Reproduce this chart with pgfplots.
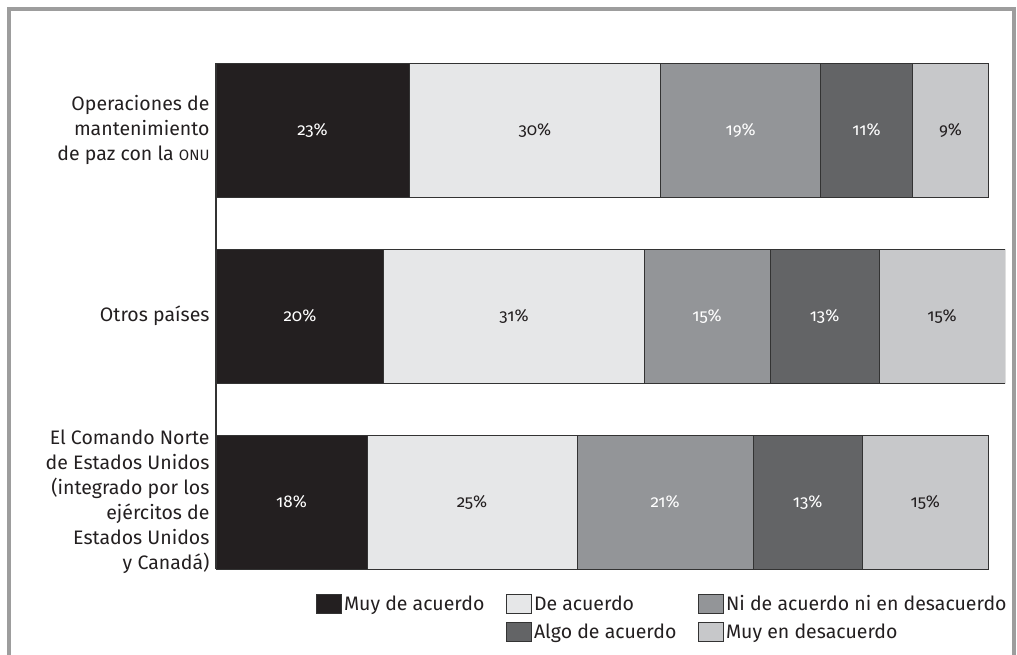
\documentclass[border=0pt]{standalone}
\usepackage{fontspec}
\setmainfont{Fira Sans}
\newfontfamily\numfont[Numbers=OldStyle]{Fira Sans}
\usepackage{pgfplots}
\usepackage{pgfplotstable}
\pgfplotsset{compat=1.18}

\definecolor{c1}{HTML}{231F20}
\definecolor{c2}{HTML}{E6E7E8}
\definecolor{c3}{HTML}{939598}
\definecolor{c4}{HTML}{636466}
\definecolor{c5}{HTML}{C7C8CA}
\definecolor{edge}{HTML}{333333}
\definecolor{framec}{HTML}{9D9D9D}

% y position (2 = top row), then the five answer shares in percent
\pgfplotstableread{
pos muy de ni algo muyen
2   23  30 19 11   9
1   20  31 15 13   15
0   18  25 21 13   15
}\encuesta

\pgfplotsset{
  legbox/.style={legend image code/.code={\draw[##1,draw=edge,line width=0.6pt] (0pt,-9.5pt) rectangle (25pt,9.5pt);}},
  % one stacked segment: fill colour, colour of its centred percentage label
  seg/.style n args={2}{forget plot, fill=#1, draw=edge, line width=0.8pt,
    point meta=explicit symbolic,
    nodes near coords={\pgfplotspointmeta\%},
    every node near coord/.style={anchor=center, text=#2,
      font=\numfont\fontsize{17}{17}\selectfont}},
}

\begin{document}
\begin{tikzpicture}
\useasboundingbox (0,0) rectangle (1017pt,-654pt);
\draw[line width=4pt, framec] (9pt,-700pt) -- (9pt,-9pt) -- (1014pt,-9pt) -- (1014pt,-700pt);
\begin{axis}[
  at={(216pt,-569pt)}, anchor=south west,
  scale only axis, width=789pt, height=506pt,
  xbar stacked, bar width=134pt,
  xmin=0, xmax=94, ymin=-0.36, ymax=2.36,
  axis x line=none, axis y line*=left,
  axis line style={draw=edge, line width=1.6pt},
  xtick=\empty, ytick={0,1,2}, major tick length=0pt,
  yticklabels={{El Comando Norte\\de Estados Unidos\\(integrado por los\\ejércitos de\\Estados Unidos\\y Canadá)},
               {Otros países},
               {Operaciones de\\mantenimiento\\de paz con la {\fontsize{15}{15}\selectfont ONU}}},
  yticklabel style={align=right, text=c1, font=\fontsize{19.5}{25}\selectfont, xshift=-3pt},
  legend columns=3,
  legend cell align=left,
  legend style={at={(axis description cs:0.127,-0.048)}, anchor=north west,
    draw=none, fill=none, inner sep=0pt, text=c1,
    font=\fontsize{19.5}{19.5}\selectfont,
    /tikz/every even column/.append style={column sep=20pt},
    /tikz/row sep=8pt},
]
\addplot[seg={c1}{white}] table[x=muy,   y=pos, meta=muy]{\encuesta};
\addplot[seg={c2}{c1}]    table[x=de,    y=pos, meta=de]{\encuesta};
\addplot[seg={c3}{white}] table[x=ni,    y=pos, meta=ni]{\encuesta};
\addplot[seg={c4}{white}] table[x=algo,  y=pos, meta=algo]{\encuesta};
\addplot[seg={c5}{c1}]    table[x=muyen, y=pos, meta=muyen]{\encuesta};

\addlegendimage{legbox, fill=c1}\addlegendentry{Muy de acuerdo}
\addlegendimage{legbox, fill=c2}\addlegendentry{De acuerdo}
\addlegendimage{legbox, fill=c3}\addlegendentry{Ni de acuerdo ni en desacuerdo}
\addlegendimage{empty legend}\addlegendentry{}
\addlegendimage{legbox, fill=c4}\addlegendentry{Algo de acuerdo}
\addlegendimage{legbox, fill=c5}\addlegendentry{Muy en desacuerdo}
\end{axis}
\end{tikzpicture}
\end{document}
